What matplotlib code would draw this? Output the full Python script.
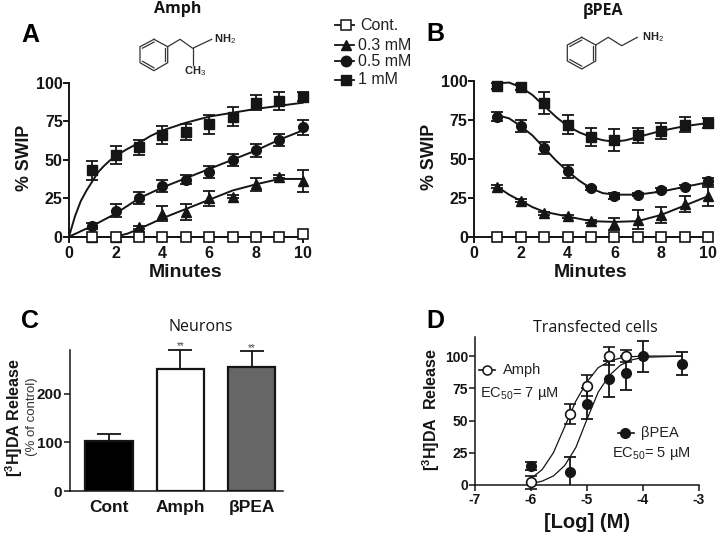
import matplotlib
matplotlib.use("Agg")
import matplotlib.pyplot as plt

plt.rcParams['font.family'] = ['Liberation Sans', 'DejaVu Sans']
plt.rcParams['mathtext.fontset'] = 'custom'
plt.rcParams['mathtext.rm'] = 'Liberation Sans'
plt.rcParams['mathtext.bf'] = 'Liberation Sans:bold'
plt.rcParams['mathtext.it'] = 'Liberation Sans:italic'

W, H = 720, 534
INK = '#151515'

minutes = [1, 2, 3, 4, 5, 6, 7, 8, 9, 10]

# panel A
a_cont = [0, 0, 0, 0, 0, 0, 0, 0, 0, 2]
a_03 = [0, 0, 6, 15, 16, 25, 26, 34, 39, 36]
a_03_err = [0, 0, 1, 5, 5, 5, 1, 4, 1, 7]
a_05 = [7, 17, 25, 33, 37, 42, 50, 56, 63, 71]
a_05_err = [2, 4, 4, 4, 3, 4, 4, 4, 4, 5]
a_1 = [43, 53, 58, 66, 68, 73, 78, 87, 88, 91]
a_1_err = [6, 6, 5, 6, 5, 6, 6, 5, 6, 3]

a_cont_fit_x = [0, 10]
a_cont_fit = [0, 0]
a_03_fit_x = [2, 2.5, 3, 4, 5, 6, 7, 8, 9, 10]
a_03_fit = [0, 2, 5, 12, 18, 24, 30, 34, 37.5, 37.5]
a_05_fit_x = [0, 1, 2, 3, 4, 5, 6, 7, 8, 9, 10]
a_05_fit = [0, 7, 15, 25, 32, 38, 44, 50, 56, 63, 69]
a_1_fit_x = [0, 0.25, 0.5, 0.75, 1, 1.25, 1.5, 1.75, 2, 2.5, 3, 3.5, 4, 5, 6, 7, 8, 9, 10]
a_1_fit = [0, 13, 23, 30, 36, 42, 46, 49.5, 52.5, 57, 61, 65.5, 69, 74, 78, 80.5, 83, 85, 87]

# panel B
b_cont = [0, 0, 0, 0, 0, 0, 0, 0, 0, 0]
b_03 = [32, 23, 15, 13, 10, 8, 11, 14, 21, 26]
b_03_err = [1, 1, 1, 1, 1, 4, 6, 5, 5, 6]
b_05 = [77, 71, 57, 42, 31, 26, 27, 30, 32, 35.5]
b_05_err = [3, 4, 4, 4, 1, 2, 1, 1, 1, 2]
b_1 = [97, 96, 86, 72, 64, 62, 65, 68, 72, 73]
b_1_err = [2, 2, 7, 6, 6, 7, 5, 5, 5, 3]

b_cont_fit_x = [1, 10]
b_cont_fit = [0, 0]
b_03_fit_x = [1, 1.5, 2, 2.5, 3, 4, 5, 6, 7, 8, 9, 10]
b_03_fit = [32, 27, 23, 19, 16, 13, 10, 9.5, 10, 14, 20, 26]
b_05_fit_x = [1, 1.5, 2, 2.5, 3, 3.5, 4, 4.5, 5, 5.5, 6, 7, 8, 9, 10]
b_05_fit = [78, 76, 71, 65, 57, 49, 42, 36, 31, 28, 27, 27, 29, 32, 35]
b_1_fit_x = [1, 1.5, 2, 2.5, 3, 3.5, 4, 4.5, 5, 5.5, 6, 6.5, 7, 8, 9, 10]
b_1_fit = [98.5, 99, 96, 91, 84, 77, 71, 67, 64, 62, 61, 62, 64, 68, 71, 73]

# panel C
c_labels = ['Cont', 'Amph', 'βPEA']
c_values = [103, 250, 254]
c_errs = [14, 40, 32]
c_colors = ['black', 'white', '#666666']

# panel D
d_amph_x = [-6, -5.3, -5, -4.6, -4.3]
d_amph = [2, 55, 77, 100, 100]
d_amph_err = [5, 8, 8, 7, 5]
d_pea_x = [-6, -5.3, -5, -4.6, -4.3, -4, -3.3]
d_pea = [15, 10, 63, 82, 87, 100, 94]
d_pea_err = [3, 12, 12, 14, 13, 12, 9]

d_amph_fit_x = [-6, -5.8, -5.6, -5.4, -5.2, -5, -4.8, -4.6, -4.4, -4.2, -4, -3.3]
d_amph_fit = [5, 12, 25, 45, 65, 80, 91, 96, 98.5, 99.5, 100, 100]
d_pea_fit_x = [-6, -5.8, -5.6, -5.4, -5.2, -5, -4.8, -4.6, -4.4, -4.2, -4, -3.3]
d_pea_fit = [1, 3, 7, 15, 29, 51, 72, 85, 93, 97, 99, 100]


def axes_px(fig, left, right, top, bottom):
    return fig.add_axes([left / W, 1 - bottom / H, (right - left) / W, (bottom - top) / H])


def clean(ax, lw=1.4):
    for s in ['top', 'right']:
        ax.spines[s].set_visible(False)
    for s in ['left', 'bottom']:
        ax.spines[s].set_linewidth(lw)
        ax.spines[s].set_color(INK)
    ax.patch.set_alpha(0)


def time_panel(ax, cont, s03, e03, s05, e05, s1, e1, fits):
    for fx, fy in fits:
        ax.plot(fx, fy, color=INK, lw=1.4, zorder=3, clip_on=False)
    styles = [(s03, e03, '^', 7), (s05, e05, 'o', 7), (s1, e1, 's', 7.5)]
    for vals, errs, mk, ms in styles:
        ax.errorbar(minutes, vals, yerr=errs, fmt=mk, ms=ms, color=INK, ecolor=INK, elinewidth=1.3,
                    capsize=4.5, capthick=1.3, clip_on=False, zorder=4)
    ax.plot(minutes, cont, 's', ms=6.5, mfc='white', mec=INK, mew=1.2, clip_on=False, zorder=5)
    ax.set_xlim(0, 10)
    ax.set_ylim(0, 100)
    ax.set_xticks([0, 2, 4, 6, 8, 10])
    ax.set_yticks([0, 25, 50, 75, 100])
    ax.tick_params(width=1.4, length=4, labelsize=11.5, color=INK, labelcolor=INK)
    ax.tick_params(axis='x', pad=3)
    ax.tick_params(axis='y', pad=0.5)
    for t in ax.get_xticklabels() + ax.get_yticklabels():
        t.set_fontweight('bold')
    ax.set_xlabel('Minutes', fontsize=14, fontweight='bold', color=INK, labelpad=2)
    ax.set_ylabel('% SWIP', fontsize=12.8, fontweight='bold', color=INK)
    ax.yaxis.set_label_coords(-0.155, 0.51)
    clean(ax)


fig = plt.figure(figsize=(W / 100, H / 100), dpi=100)

# pixel layer for panel letters, molecules and the shared legend
over = fig.add_axes([0, 0, 1, 1], zorder=10)
over.set_xlim(0, W)
over.set_ylim(H, 0)
over.axis('off')

ax_a = axes_px(fig, 69, 302.7, 82.7, 236.7)
time_panel(ax_a, a_cont, a_03, a_03_err, a_05, a_05_err, a_1, a_1_err,
           [(a_cont_fit_x, a_cont_fit), (a_03_fit_x, a_03_fit), (a_05_fit_x, a_05_fit), (a_1_fit_x, a_1_fit)])

ax_b = axes_px(fig, 474, 708, 81, 236.7)
time_panel(ax_b, b_cont, b_03, b_03_err, b_05, b_05_err, b_1, b_1_err,
           [(b_cont_fit_x, b_cont_fit), (b_03_fit_x, b_03_fit), (b_05_fit_x, b_05_fit), (b_1_fit_x, b_1_fit)])

# panel C
ax_c = axes_px(fig, 70, 283, 350, 491.3)
positions = [0, 1, 2]
ax_c.bar(positions, c_values, width=0.665, color=c_colors, edgecolor=INK, linewidth=1.6, zorder=3)
eb = ax_c.errorbar(positions, c_values, yerr=[[0, 0, 0], c_errs], fmt='none', ecolor=INK, elinewidth=1.3,
                   capsize=8.7, capthick=1.3, zorder=2, clip_on=False)
ax_c.set_xlim(-0.55, 2.44)
ax_c.set_ylim(0, 289)
ax_c.set_xticks(positions)
ax_c.set_xticklabels(c_labels, fontsize=12.5, fontweight='bold', color=INK)
ax_c.set_yticks([0, 100, 200])
ax_c.tick_params(axis='x', length=0, pad=6)
ax_c.tick_params(axis='y', width=1.1, length=4.5, labelsize=11, pad=1, color=INK, labelcolor=INK)
for t in ax_c.get_yticklabels():
    t.set_fontweight('bold')
for i in [1, 2]:
    ax_c.annotate('**', (positions[i], c_values[i] + c_errs[i]), xytext=(0, -1), textcoords='offset points',
                  ha='center', va='bottom', fontsize=7, color='#444444', annotation_clip=False)
clean(ax_c, lw=1.1)

# panel D
ax_d = axes_px(fig, 475, 699, 336.7, 485)
ax_d.plot(d_amph_fit_x, d_amph_fit, color=INK, lw=0.9, zorder=2)
ax_d.plot(d_pea_fit_x, d_pea_fit, color=INK, lw=0.9, zorder=2)
ax_d.errorbar(d_pea_x, d_pea, yerr=d_pea_err, fmt='o', ms=7, color=INK, ecolor=INK, elinewidth=1.3,
              capsize=4.5, capthick=1.3, zorder=3, clip_on=True)
ax_d.errorbar(d_amph_x, d_amph, yerr=d_amph_err, fmt='o', ms=7, mfc='white', mec=INK, mew=1.2,
              ecolor=INK, elinewidth=1.3, capsize=4.5, capthick=1.3, zorder=4, clip_on=False)
ax_d.set_xlim(-7, -3)
ax_d.set_ylim(0, 115)
ax_d.set_xticks([-7, -6, -5, -4, -3])
ax_d.set_xticklabels(['-7', '-6', '-5', '-4', '-3'])
ax_d.set_yticks([0, 25, 50, 75, 100])
ax_d.tick_params(width=1.1, length=4.5, labelsize=10, color=INK, labelcolor=INK)
ax_d.tick_params(axis='x', pad=1.5)
ax_d.tick_params(axis='y', pad=0.5)
for t in ax_d.get_xticklabels() + ax_d.get_yticklabels():
    t.set_fontweight('bold')
ax_d.set_xlabel('[Log] (M)', fontsize=14.5, fontweight='bold', color=INK, labelpad=4)
clean(ax_d, lw=1.1)

# panel letters and titles
for letter, x, y in [('A', 30, 35), ('B', 435, 34), ('C', 30, 321), ('D', 435, 321)]:
    over.text(x, y, letter, fontsize=18, fontweight='bold', color='black', ha='center', va='center')
over.text(178, 9, 'Amph', fontsize=11.5, fontweight='bold', color=INK, ha='center', va='center',
          family=['Open Sans', 'DejaVu Sans'])
over.text(603, 11, 'βPEA', fontsize=11.5, fontweight='bold', color=INK, ha='center', va='center',
          family=['Open Sans', 'DejaVu Sans'])
over.text(201, 327, 'Neurons', fontsize=11.5, color=INK, ha='center', va='center',
          family=['Open Sans', 'DejaVu Sans'])
over.text(595, 328, 'Transfected cells', fontsize=11.5, color=INK, ha='center', va='center',
          family=['Open Sans', 'DejaVu Sans'])

# y labels of the lower panels
over.text(14, 418, r'[$\mathbf{^{3}}$H]DA Release', fontsize=11.5, fontweight='bold', color=INK, rotation=90,
          ha='center', va='center')
over.text(32, 417, '(% of control)', fontsize=9.5, color='#333333', rotation=90, ha='center', va='center')
over.text(431, 409, r'[$\mathbf{^{3}}$H]DA  Release', fontsize=11.5, fontweight='bold', color=INK, rotation=90,
          ha='center', va='center')

# legend between A and B
leg_y = [25.3, 45, 61, 80]
leg_txt = ['Cont.', '0.3 mM', '0.5 mM', '1 mM']
leg_mk = ['s', '^', 'o', 's']
for i in range(4):
    over.plot([335, 354], [leg_y[i], leg_y[i]], color=INK, lw=1.3)
    if i == 0:
        over.plot([345.5], [leg_y[i]], 's', ms=7.5, mfc='white', mec=INK, mew=1.1)
    else:
        over.plot([345.5], [leg_y[i]], leg_mk[i], ms=7.5, color=INK)
    over.text(360 if i == 0 else 358, leg_y[i], leg_txt[i], fontsize=11.5, color='#222222', va='center')

# panel D inset legends
over.plot([479, 495], [370, 370], color=INK, lw=1.2)
over.plot([487], [370], 'o', ms=6.5, mfc='white', mec=INK, mew=1.1)
over.text(503, 370, 'Amph', fontsize=10.5, color='#222222', va='center')
over.text(480, 393, r'EC$_{50}$= 7 µM', fontsize=10.5, color='#222222', va='center')
over.plot([618, 634], [433, 433], color=INK, lw=1.2)
over.plot([625], [433], 'o', ms=7, color=INK)
over.text(641, 433, 'βPEA', fontsize=10.5, color='#222222', va='center')
over.text(612, 453, r'EC$_{50}$= 5 µM', fontsize=10.5, color='#222222', va='center')


def benzene(hx, hy):
    over.plot(hx + hx[:1], hy + hy[:1], color='#333333', lw=0.9)
    for a, b in [(1, 2), (3, 4), (5, 0)]:
        mx = sum(hx) / 6
        my = sum(hy) / 6
        ends = [(mx + (hx[k] - mx) * 0.82, my + (hy[k] - my) * 0.82) for k in (a, b)]
        over.plot([ends[0][0], ends[1][0]], [ends[0][1], ends[1][1]], color='#333333', lw=0.9)


# molecule sketches
benzene([154, 167.7, 167.7, 154, 140, 140], [39.3, 46.7, 62.7, 70.7, 62.7, 46.7])
over.plot([167.7, 180, 192.7, 211.7], [46.7, 39.3, 48.3, 39.3], color='#333333', lw=0.9)
over.plot([192.7, 192.7], [48.3, 65], color='#333333', lw=0.9)
over.text(213.5, 39.5, r'NH$_2$', fontsize=8, color='#222222', va='center', fontweight='bold')
over.text(184.5, 71, r'CH$_3$', fontsize=8, color='#222222', va='center', fontweight='bold')

benzene([581.7, 595.7, 595.7, 581.7, 567.3, 567.3], [37.3, 45, 61, 69, 61, 45])
over.plot([595.7, 608.3, 621.7, 637.3], [45, 37.3, 45.7, 37.3], color='#333333', lw=0.9)
over.text(642, 37, r'NH$_2$', fontsize=8, color='#222222', va='center', fontweight='bold')

fig.savefig('out.png', dpi=100)
